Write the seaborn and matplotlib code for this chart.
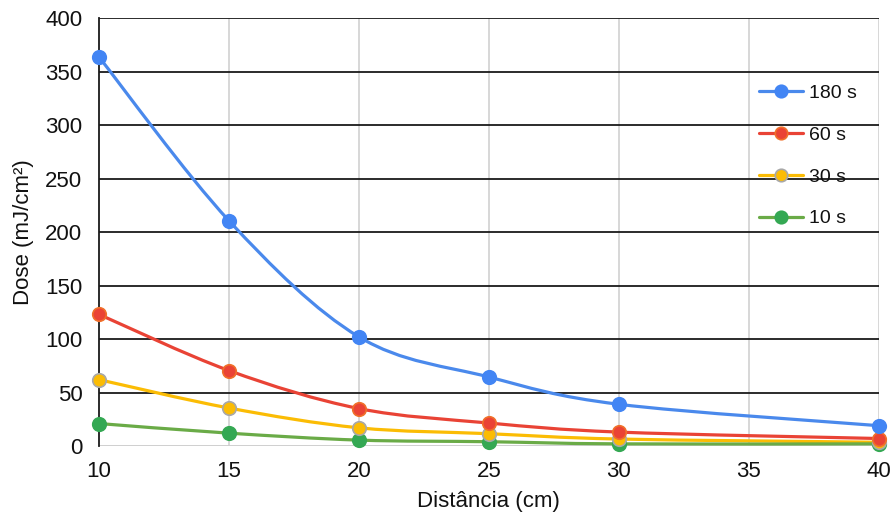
import numpy as np
import pandas as pd
import matplotlib
matplotlib.use("Agg")
import matplotlib.pyplot as plt
from matplotlib.path import Path
from matplotlib.patches import PathPatch
from matplotlib.lines import Line2D
import seaborn as sns

distancia = [10, 15, 20, 25, 30, 40]
dose_180 = [363.5, 210.5, 102, 64.5, 39, 19]
dose_60 = [123, 70.5, 35, 21.5, 13, 7]
dose_30 = [62, 35.5, 17, 11.5, 6.5, 3.5]
dose_10 = [21, 12, 5.5, 4, 2, 2]

series = ["180 s", "60 s", "30 s", "10 s"]
cores = {"180 s": "#4285F4", "60 s": "#EA4335", "30 s": "#FBBC04", "10 s": "#34A853"}
bordas = {"180 s": "#4285F4", "60 s": "#F0702A", "30 s": "#A8A8A8", "10 s": "#34A853"}
linhas = {"180 s": "#4A89EC", "60 s": "#E94335", "30 s": "#FBBC04", "10 s": "#6AAB47"}

df = pd.DataFrame({
    "Distância": distancia * 4,
    "Dose": dose_180 + dose_60 + dose_30 + dose_10,
    "Tempo": sum([[s] * len(distancia) for s in series], []),
})


def curva_suave(x, y):
    # catmull-rom -> bezier cubica
    p = np.column_stack([x, y]).astype(float)
    ext = np.vstack([p[0], p, p[-1]])
    verts = [p[0]]
    codes = [Path.MOVETO]
    for i in range(len(p) - 1):
        p0, p1, p2, p3 = ext[i], ext[i + 1], ext[i + 2], ext[i + 3]
        c1 = p1 + (p2 - p0) / 6
        c2 = p2 - (p3 - p1) / 6
        verts += [c1, c2, p2]
        codes += [Path.CURVE4] * 3
    return Path(verts, codes)


sns.set_theme(style="white")
plt.rcParams['font.family'] = ['Liberation Sans', 'DejaVu Sans']

fig = plt.figure(figsize=(8.93, 5.18), dpi=100)
ax = fig.add_axes([0.111, 0.139, 0.873, 0.826])

for s in series:
    d = df[df["Tempo"] == s]
    ax.add_patch(PathPatch(curva_suave(d["Distância"], d["Dose"]), fill=False,
                           edgecolor=linhas[s], lw=2.3, zorder=3, capstyle='round'))

for s in series[::-1]:
    d = df[df["Tempo"] == s]
    sns.scatterplot(data=d, x="Distância", y="Dose", ax=ax, color=cores[s],
                    edgecolor=bordas[s], linewidth=1.2, s=95, zorder=4, legend=False)

ax.set_xlim(10, 40)
ax.set_ylim(0, 400)
ax.set_xticks([10, 15, 20, 25, 30, 35, 40])
ax.set_yticks(np.arange(0, 401, 50))
for c in ax.collections:
    c.set_clip_on(False)

for yv in range(50, 401, 50):
    ax.axhline(yv, color="#1a1a1a", lw=1.3, zorder=1)
for xv in [15, 20, 25, 30, 35, 40]:
    ax.axvline(xv, color="#d4d4d4", lw=1.3, zorder=0)
ax.axhline(0, color="#cccccc", lw=1.3, zorder=1)

for sp in ["top", "right", "bottom"]:
    ax.spines[sp].set_visible(False)
ax.spines["left"].set_color("#1a1a1a")
ax.spines["left"].set_linewidth(1.3)

ax.tick_params(axis="both", labelsize=16, length=0, colors="#111111")
ax.tick_params(axis="x", pad=11)
ax.tick_params(axis="y", pad=12)
ax.set_xlabel("Distância (cm)", fontsize=16, color="#111111", labelpad=6)
ax.set_ylabel("Dose (mJ/cm²)", fontsize=16, color="#111111", labelpad=8)

handles = [Line2D([0], [0], color=linhas[s], lw=2.3, marker="o", markersize=9,
                  markerfacecolor=cores[s], markeredgecolor=bordas[s], markeredgewidth=1.2)
           for s in series]
leg = ax.legend(handles, series, loc="upper left", bbox_to_anchor=(0.836, 0.864),
                frameon=False, fontsize=14, handlelength=2.3, handletextpad=0.3,
                labelspacing=1.25, borderaxespad=0)
for t in leg.get_texts():
    t.set_color("#111111")

fig.savefig("out.png", dpi=100)
